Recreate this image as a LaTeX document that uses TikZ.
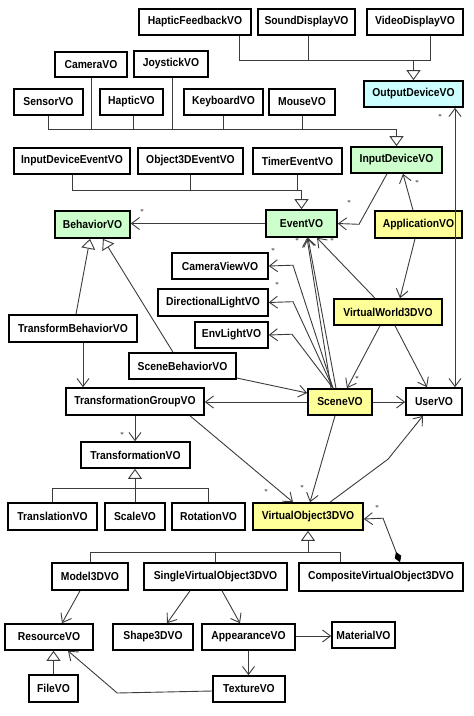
\documentclass[tikz,border=0pt]{standalone}
\usepackage{fontspec}
\newfontfamily\boxfont[FakeStretch=0.9]{Liberation Sans}
\usetikzlibrary{arrows.meta}
\definecolor{lineC}{RGB}{60,60,60}
\definecolor{greenF}{RGB}{204,255,204}
\definecolor{yellowF}{RGB}{255,255,153}
\definecolor{cyanF}{RGB}{204,255,255}
\begin{document}
\begin{tikzpicture}[x=1pt,y=-1pt,
 vobox/.style={draw=black, line width=1.6pt, fill=white, inner sep=0pt, minimum height=26pt, font=\boxfont\bfseries\fontsize{11.5}{12}\selectfont},
 conn/.style={draw=lineC, line width=0.9pt},
 asc/.style={conn, -{Straight Barb[length=8pt,width=12pt]}},
 inh/.style={conn, -{Triangle[length=10pt,width=14pt,fill=white]}},
 mult/.style={font=\fontsize{7}{7}\selectfont, inner sep=0pt, text=black}]
\useasboundingbox (0,0) rectangle (474,716);
\fill[white] (0,0) rectangle (474,716);
% nodes
\node[vobox, minimum width=112pt] (hf) at (195,22) {HapticFeedbackVO};
\node[vobox, minimum width=97pt] (sd) at (306.5,22) {SoundDisplayVO};
\node[vobox, minimum width=96pt] (vd) at (415,22) {VideoDisplayVO};
\node[vobox, minimum width=99pt, fill=cyanF] (od) at (413.5,94) {OutputDeviceVO};
\node[vobox, minimum width=72pt, minimum height=25pt] (cam) at (91,64.5) {CameraVO};
\node[vobox, minimum width=74pt] (joy) at (171,64) {JoystickVO};
\node[vobox, minimum width=69pt] (sen) at (48.5,102) {SensorVO};
\node[vobox, minimum width=63pt] (hap) at (131.5,102) {HapticVO};
\node[vobox, minimum width=79pt] (key) at (223.5,102) {KeyboardVO};
\node[vobox, minimum width=66pt] (mou) at (302,102) {MouseVO};
\node[vobox, minimum width=91pt, fill=greenF] (idv) at (396.5,160) {InputDeviceVO};
\node[vobox, minimum width=116pt] (ide) at (72,161) {InputDeviceEventVO};
\node[vobox, minimum width=105pt] (o3e) at (190.5,161) {Object3DEventVO};
\node[vobox, minimum width=89pt] (tim) at (297.5,161) {TimerEventVO};
\node[vobox, minimum width=75pt, minimum height=27pt, fill=greenF] (beh) at (92.5,224.5) {BehaviorVO};
\node[vobox, minimum width=71pt, minimum height=27pt, fill=greenF] (ev) at (301.5,223.5) {EventVO};
\node[vobox, minimum width=87pt, minimum height=27pt, fill=yellowF] (app) at (418.5,224.5) {ApplicationVO};
\node[vobox, minimum width=96pt] (cv) at (220,266) {CameraViewVO};
\node[vobox, minimum width=110pt, minimum height=27pt] (dl) at (213,302.5) {DirectionalLightVO};
\node[vobox, minimum width=73pt] (el) at (231.5,335) {EnvLightVO};
\node[vobox, minimum width=108pt, fill=yellowF] (vw) at (388,312) {VirtualWorld3DVO};
\node[vobox, minimum width=128pt, minimum height=27pt] (tb) at (73,328.5) {TransformBehaviorVO};
\node[vobox, minimum width=107pt] (sb) at (182.5,366) {SceneBehaviorVO};
\node[vobox, minimum width=138pt, minimum height=27pt] (tg) at (135,401.5) {TransformationGroupVO};
\node[vobox, minimum width=64pt, fill=yellowF] (sc) at (340,402) {SceneVO};
\node[vobox, minimum width=56pt, minimum height=27pt] (us) at (434,401.5) {UserVO};
\node[vobox, minimum width=109pt] (tr) at (135.5,455) {TransformationVO};
\node[vobox, minimum width=89pt, minimum height=27pt] (tl) at (52.5,516.5) {TranslationVO};
\node[vobox, minimum width=60pt, minimum height=27pt] (sca) at (135,516.5) {ScaleVO};
\node[vobox, minimum width=73pt, minimum height=27pt] (rot) at (208.5,516.5) {RotationVO};
\node[vobox, minimum width=110pt, minimum height=27pt, fill=yellowF] (vo) at (308,516.5) {VirtualObject3DVO};
\node[vobox, minimum width=76pt, minimum height=27pt] (m3) at (90,576.5) {Model3DVO};
\node[vobox, minimum width=143pt, minimum height=27pt] (svo) at (215.5,576.5) {SingleVirtualObject3DVO};
\node[vobox, minimum width=164pt, minimum height=28pt] (cvo) at (381,577) {CompositeVirtualObject3DVO};
\node[vobox, minimum width=88pt] (res) at (49,637) {ResourceVO};
\node[vobox, minimum width=80pt] (sh) at (153,637) {Shape3DVO};
\node[vobox, minimum width=93pt] (ap) at (248.5,637) {AppearanceVO};
\node[vobox, minimum width=63pt] (mat) at (363.5,635) {MaterialVO};
\node[vobox, minimum width=72pt] (tx) at (249,689) {TextureVO};
\node[vobox, minimum width=49pt, minimum height=27pt] (fi) at (53.5,688.5) {FileVO};
% output device bus
\coordinate (ob) at (413.5,60);
\coordinate (obr) at (430,60);
\draw[conn] ([xshift=44pt]hf.south) |- (obr) -- ([xshift=15pt]vd.south);
\draw[conn] ([xshift=1.5pt]sd.south) -- ([xshift=1.5pt]sd.south |- ob);
\draw[inh] (ob) -- (od.north);
% input device bus
\coordinate (ib) at (396.5,129);
\draw[conn] (sen.south) |- (ib);
\draw[conn] (cam.south) -- (cam.south |- ib);
\draw[conn] ([xshift=1.5pt]hap.south) -- ([xshift=1.5pt]hap.south |- ib);
\draw[conn] ([xshift=1pt]joy.south) -- ([xshift=1pt]joy.south |- ib);
\draw[conn] (key.south) -- (key.south |- ib);
\draw[conn] (mou.south) -- (mou.south |- ib);
\draw[inh] (ib) -- (idv.north);
% event bus
\coordinate (eb) at (301.5,190);
\draw[conn] (ide.south) |- (eb);
\draw[conn] (o3e.south) -- (o3e.south |- eb);
\draw[conn] (tim.south) -- (tim.south |- eb);
\draw[inh] (eb) -- (ev.north);
% associations top
\draw[asc] (ev.west) -- (ev.west -| beh.east);
\draw[asc] ([xshift=-9.5pt]idv.south) -- ++(-28,50.5) -- (ev.east);
\draw[asc] ([xshift=-5.5pt]app.north) -- ([xshift=6.5pt]idv.south);
\draw[asc] ([xshift=-3.5pt]app.south) -- ([xshift=12pt]vw.north);
\draw[asc] ([xshift=-13pt]vw.north) -- ([xshift=15.5pt]ev.south);
\draw[asc] ([xshift=-9pt]sc.north) -- ([xshift=5.5pt]ev.south);
\draw[asc] ([xshift=-4pt]sc.north) -- ([xshift=6.5pt]ev.south);
\draw[asc] ([xshift=-7pt]sc.north) -- ++(-40,-123) -- (cv.east);
\draw[asc] ([xshift=-7pt]sc.north) -- ++(-40,-86.5) -- (dl.east);
\draw[asc] ([xshift=-7pt]sc.north) -- ++(-41,-54) -- (el.east);
\draw[asc] ([yshift=-12pt]sb.east) -- ([yshift=9pt]sc.west);
\draw[asc] (sc.west) -- (sc.west -| tg.east);
\draw[asc] (sc.east) -- (sc.east -| us.west);
\draw[asc] ([xshift=-8pt]vw.south) -- ([xshift=7pt]sc.north);
\draw[asc] ([xshift=7pt]vw.south) -- ([xshift=-7pt]us.north);
\draw[conn, {Straight Barb[length=8pt,width=12pt]}-{Straight Barb[length=8pt,width=12pt]}] ([xshift=21pt]us.north) -- ([xshift=21pt]us.north |- od.south);
% behaviors
\draw[inh] ([xshift=3pt]tb.north) -- ([xshift=-2.5pt]beh.south);
\draw[inh] ([xshift=-9.5pt]sb.north) -- ([xshift=10.5pt]beh.south);
\draw[asc] ([xshift=10pt]tb.south) -- ([xshift=10pt]tb.south |- tg.north);
\draw[asc] (tg.south) -- (tg.south |- tr.north);
% transformation bus
\coordinate (tbus) at (135,488);
\draw[conn] (tl.north) |- (rot.north |- tbus) -- (rot.north);
\draw[inh] (sca.north) -- (sca.north |- tr.south);
% virtual object
\draw[asc] ([xshift=55pt]tg.south) -- ([xshift=-15pt]vo.north);
\draw[asc] ([xshift=-5pt]sc.south) -- ([xshift=2pt]vo.north);
\draw[asc] ([xshift=22pt]vo.north) -- ++(58,-43) -- ([xshift=-11pt]us.south);
\draw[conn, {Diamond[length=11pt,width=7pt,color=black,fill=black]}-{Straight Barb[length=8pt,width=12pt]}] ([xshift=19pt]cvo.north) -- ++(-17,-44) -- ([yshift=-2.5pt]vo.east);
\coordinate (vbus) at (308,552);
\draw[inh] (vbus) -- (vo.south);
\draw[conn] (m3.north) |- ([xshift=-41pt]cvo.north |- vbus) -- ([xshift=-41pt]cvo.north);
\draw[conn] (svo.north) -- (svo.north |- vbus);
% bottom
\draw[asc] ([xshift=-10pt]m3.south) -- ([xshift=13pt]res.north);
\draw[asc] ([xshift=-25.5pt]svo.south) -- ([xshift=14pt]sh.north);
\draw[asc] ([xshift=6.5pt]svo.south) -- ([xshift=-8.5pt]ap.north);
\draw[asc] ([yshift=1pt]ap.east) -- ([yshift=1pt]ap.east -| mat.west);
\draw[asc] (ap.south) -- (ap.south |- tx.north);
\draw[inh] (fi.north) -- (fi.north |- res.south);
\draw[asc] ([yshift=-2pt]tx.west) -- ++(-95,2) -- ([xshift=19pt]res.south);
% multiplicities
\node[mult] (m1) at (440,117) {*};
\node[mult] (m2) at (349,203) {*};
\node[mult] (m3s) at (417,183) {*};
\node[mult] (m4) at (142,212) {*};
\node[mult] (m5) at (297,241) {*};
\node[mult] (m6) at (332,241) {*};
\node[mult] (m7) at (273,251) {*};
\node[mult] (m8) at (277,285) {*};
\node[mult] (m9) at (357,379) {*};
\node[mult] (m10) at (122,435) {*};
\node[mult] (m11) at (266,492) {*};
\node[mult] (m12) at (302,488) {*};
\node[mult] (m13) at (377,508) {*};
\end{tikzpicture}
\end{document}
